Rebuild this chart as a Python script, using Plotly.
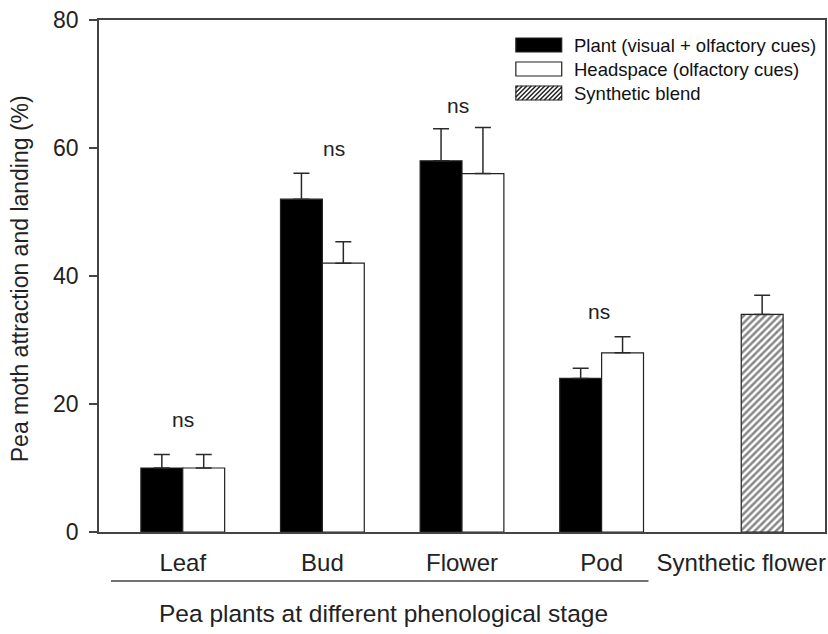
import plotly.graph_objects as go

# ---- data ----
categories = ["Leaf", "Bud", "Flower", "Pod", "Synthetic flower"]
plant_vals = [10, 52, 58, 24]
plant_err = [2.1, 4.05, 5.0, 1.6]
head_vals = [10, 42, 56, 28]
head_err = [2.1, 3.35, 7.2, 2.5]
synth_val = [34]
synth_err = [3.0]
ns_labels = ["ns", "ns", "ns", "ns"]
ns_y = [17.6, 60.0, 66.7, 34.5]
ns_dx = [0.0, 0.08, -0.03, -0.02]
legend_names = ["Plant (visual + olfactory cues)", "Headspace (olfactory cues)", "Synthetic blend"]

FONT = "Liberation Sans, Arial, sans-serif"
W, H = 828, 634
ML, MR, MT, MB = 99, 1, 20, 102
PW, PH = W - ML - MR, H - MT - MB

def px(x):
    return (x - ML) / PW

def py(y):
    return (H - MB - y) / PH

fig = go.Figure()
xs = list(range(len(categories)))
err_style = dict(type="data", symmetric=False, color="#2a2a2a", thickness=1.5, width=8)

fig.add_trace(go.Bar(
    x=xs[:4], y=plant_vals, width=0.3, offset=-0.3,
    marker=dict(color="black", line=dict(color="#222", width=1.2)),
    error_y=dict(array=plant_err, arrayminus=[0] * 4, **err_style),
    name=legend_names[0], showlegend=False))
fig.add_trace(go.Bar(
    x=xs[:4], y=head_vals, width=0.3, offset=0,
    marker=dict(color="white", line=dict(color="#222", width=1.2)),
    error_y=dict(array=head_err, arrayminus=[0] * 4, **err_style),
    name=legend_names[1], showlegend=False))
fig.add_trace(go.Bar(
    x=[xs[4]], y=synth_val, width=0.3, offset=0,
    marker=dict(color="white", line=dict(color="#222", width=1.2),
                pattern=dict(shape="/", size=5, solidity=0.5, fgcolor="#111", bgcolor="white")),
    error_y=dict(array=synth_err, arrayminus=[0], **err_style),
    name=legend_names[2], showlegend=False))

annotations = []
for i, (t, yv, dx) in enumerate(zip(ns_labels, ns_y, ns_dx)):
    annotations.append(dict(x=i + dx, y=yv, xref="x", yref="y", text=t, showarrow=False,
                            xanchor="center", yanchor="middle",
                            font=dict(family=FONT, size=21, color="#222")))

# y-axis title
annotations.append(dict(x=px(20), y=py(279), xref="paper", yref="paper",
                        text="Pea moth attraction and landing (%)", textangle=-90,
                        xanchor="center", yanchor="middle",
                        showarrow=False, font=dict(family=FONT, size=23, color="#222")))
# x-axis title
annotations.append(dict(x=px(384), y=py(613), xref="paper", yref="paper",
                        text="Pea plants at different phenological stage",
                        xanchor="center", yanchor="middle",
                        showarrow=False, font=dict(family=FONT, size=24.5, color="#222")))

shapes = [dict(type="line", xref="paper", yref="paper", x0=px(111), x1=px(650),
               y0=py(581), y1=py(581), line=dict(color="#444", width=1.3))]

# manual legend
lx0, lx1 = 517, 563
rows = [45, 69, 93]
bh = 14
styles = [("black", "#222"), ("white", "#222"), ("white", "#222")]
for k, (cy, name, (fc, lc)) in enumerate(zip(rows, legend_names, styles)):
    y0, y1 = cy - bh / 2, cy + bh / 2
    shapes.append(dict(type="rect", xref="paper", yref="paper",
                       x0=px(lx0), x1=px(lx1), y0=py(y1), y1=py(y0),
                       fillcolor=fc, line=dict(color=lc, width=1.2)))
    if k == 2:
        d = 4.5
        segs = []
        c = lx0 + y0 + 2
        while c < lx1 + y1:
            xa = max(lx0, c - y1)
            xb = min(lx1, c - y0)
            if xb > xa:
                segs.append("M%.5f,%.5f L%.5f,%.5f" % (px(xa), py(c - xa), px(xb), py(c - xb)))
            c += d
        shapes.append(dict(type="path", xref="paper", yref="paper", path=" ".join(segs),
                           line=dict(color="#222", width=1.5)))
    annotations.append(dict(x=px(573), y=py(cy), xref="paper", yref="paper", text=name,
                            xanchor="left", yanchor="middle", showarrow=False,
                            font=dict(family=FONT, size=18.5, color="#111")))

fig.update_layout(
    width=W, height=H,
    margin=dict(l=ML, r=MR, t=MT, b=MB),
    plot_bgcolor="white", paper_bgcolor="white",
    barmode="overlay", showlegend=False,
    annotations=annotations, shapes=shapes,
    xaxis=dict(range=[-0.6, 4.6], tickmode="array", tickvals=xs, ticktext=categories,
               showgrid=False, zeroline=False, showline=True, linecolor="#444", linewidth=1.5,
               mirror=True, ticks="", ticklabelstandoff=8,
               tickfont=dict(family=FONT, size=24, color="#222")),
    yaxis=dict(range=[0, 80], tickmode="array", tickvals=[0, 20, 40, 60, 80],
               showgrid=False, zeroline=False, showline=True, linecolor="#444", linewidth=1.5,
               mirror=True, ticks="outside", ticklen=8, tickcolor="#444", tickwidth=1.5,
               ticklabelstandoff=6,
               tickfont=dict(family=FONT, size=23, color="#222")),
)

fig.write_html("out.html", config={"displayModeBar": False},
               post_script="document.body.style.margin='0';document.body.style.overflow='hidden';")
